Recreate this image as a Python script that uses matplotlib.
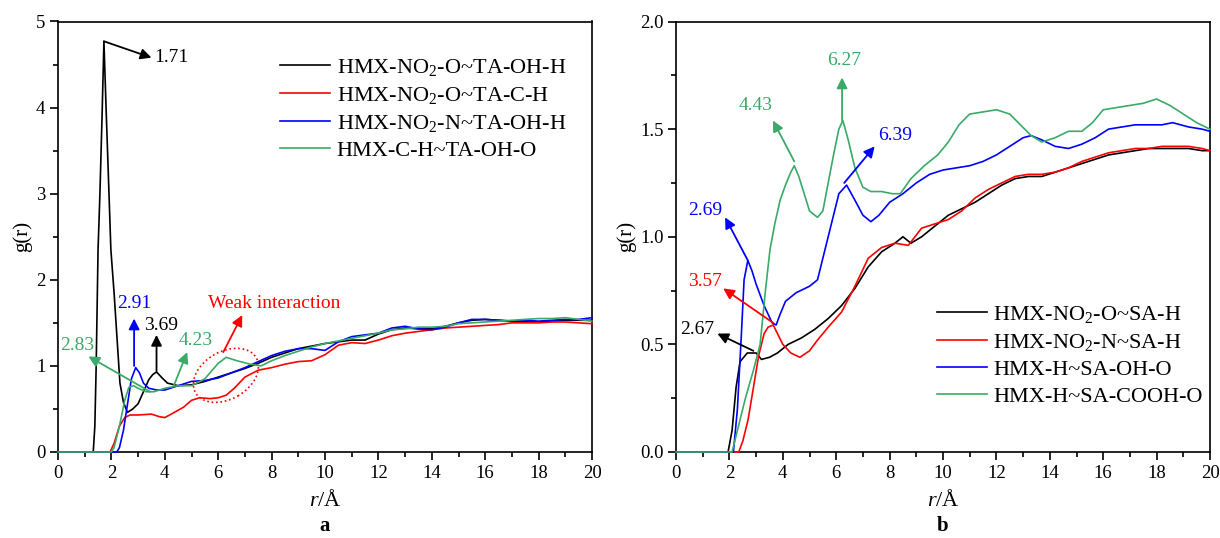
import matplotlib
matplotlib.use('Agg')
import matplotlib.pyplot as plt
import matplotlib.transforms as mtransforms
from matplotlib.patches import Ellipse
from matplotlib.ticker import MultipleLocator

plt.rcParams['font.family'] = ['Liberation Serif', 'DejaVu Serif']
plt.rcParams['mathtext.fontset'] = 'custom'
plt.rcParams['mathtext.rm'] = 'Liberation Serif'
plt.rcParams['mathtext.it'] = 'Liberation Serif:italic'
plt.rcParams['mathtext.bf'] = 'Liberation Serif:bold'

BLACK = '#000000'
RED = '#ff0000'
BLUE = '#0000ff'
GREEN = '#3aaa68'

# ---- panel a: HMX / TA ----
ta_oh_h_r = [0, 1.32, 1.38, 1.43, 1.5, 1.57, 1.65, 1.72, 1.8, 1.91, 1.98, 2.1, 2.32, 2.45, 2.6, 2.8, 3.0,
             3.2, 3.4, 3.55, 3.69, 3.9, 4.1, 4.5, 5.0, 5.5, 6.0, 6.5, 7.0, 7.5, 8.0, 8.5, 9.0, 9.5,
             10.0, 10.5, 11.0, 11.5, 12.0, 12.5, 13.0, 13.5, 14.0, 14.5, 15.0, 15.5, 16.0, 16.5,
             17.0, 17.5, 18.0, 18.5, 19.0, 19.5, 20.0]
ta_oh_h_g = [0, 0, 0.3, 1.0, 2.35, 3.0, 3.9, 4.77, 4.0, 3.0, 2.35, 1.85, 0.8, 0.58, 0.46, 0.5, 0.56,
             0.7, 0.84, 0.9, 0.93, 0.86, 0.8, 0.77, 0.78, 0.82, 0.87, 0.92, 0.97, 1.03, 1.1, 1.15, 1.2, 1.23,
             1.26, 1.28, 1.3, 1.3, 1.37, 1.42, 1.44, 1.43, 1.43, 1.46, 1.5, 1.53, 1.54, 1.53,
             1.52, 1.52, 1.51, 1.52, 1.53, 1.53, 1.53]

ta_c_h_r = [0, 1.95, 2.1, 2.3, 2.5, 2.7, 3.0, 3.5, 3.8, 4.0, 4.3, 4.7, 5.0, 5.3, 5.7, 6.0, 6.3, 6.6,
            7.0, 7.5, 8.0, 8.5, 9.0, 9.5, 10.0, 10.5, 11.0, 11.5, 12.0, 12.5, 13.0, 13.5, 14.0, 14.5,
            15.0, 15.5, 16.0, 16.5, 17.0, 17.5, 18.0, 18.5, 19.0, 19.5, 20.0]
ta_c_h_g = [0, 0, 0.1, 0.3, 0.4, 0.43, 0.43, 0.44, 0.41, 0.4, 0.45, 0.52, 0.6, 0.63, 0.62, 0.63, 0.66, 0.74,
            0.87, 0.95, 0.98, 1.02, 1.05, 1.06, 1.13, 1.24, 1.27, 1.26, 1.3, 1.35, 1.38, 1.4, 1.42, 1.44,
            1.45, 1.46, 1.47, 1.48, 1.5, 1.5, 1.5, 1.51, 1.51, 1.5, 1.49]

ta_n_h_r = [0, 2.2, 2.3, 2.45, 2.6, 2.75, 2.91, 3.05, 3.2, 3.4, 3.7, 4.0, 4.5, 5.0, 5.5, 6.0, 6.5, 7.0,
            7.5, 8.0, 8.5, 9.0, 9.5, 10.0, 10.5, 11.0, 11.5, 12.0, 12.5, 13.0, 13.5, 14.0, 14.5, 15.0,
            15.5, 16.0, 16.5, 17.0, 17.5, 18.0, 18.5, 19.0, 19.5, 20.0]
ta_n_h_g = [0, 0, 0.05, 0.25, 0.55, 0.85, 0.98, 0.92, 0.8, 0.74, 0.72, 0.72, 0.77, 0.82, 0.83, 0.86, 0.92, 0.98,
            1.05, 1.12, 1.17, 1.2, 1.2, 1.18, 1.28, 1.34, 1.36, 1.38, 1.44, 1.46, 1.43, 1.42, 1.45, 1.5,
            1.54, 1.54, 1.53, 1.52, 1.53, 1.52, 1.53, 1.54, 1.54, 1.56]

ta_oh_o_r = [0, 2.0, 2.1, 2.3, 2.5, 2.65, 2.83, 3.0, 3.3, 3.6, 4.0, 4.5, 5.0, 5.5, 6.0, 6.3, 6.7, 7.2,
             7.6, 8.0, 8.5, 9.0, 9.5, 10.0, 10.5, 11.0, 11.5, 12.0, 12.5, 13.0, 13.5, 14.0, 14.5, 15.0,
             15.5, 16.0, 16.5, 17.0, 17.5, 18.0, 18.5, 19.0, 19.5, 20.0]
ta_oh_o_g = [0, 0, 0.05, 0.3, 0.6, 0.75, 0.77, 0.74, 0.7, 0.7, 0.74, 0.77, 0.77, 0.85, 1.03, 1.1, 1.06, 1.02,
             1.0, 1.06, 1.12, 1.17, 1.22, 1.26, 1.29, 1.32, 1.35, 1.38, 1.42, 1.43, 1.45, 1.45, 1.46, 1.49,
             1.5, 1.51, 1.52, 1.53, 1.54, 1.55, 1.55, 1.56, 1.54, 1.52]

# ---- panel b: HMX / SA ----
sa_o_h_r = [0, 1.95, 2.1, 2.25, 2.4, 2.67, 3.0, 3.2, 3.5, 3.8, 4.2, 4.7, 5.2, 5.7, 6.2, 6.7, 7.2, 7.7,
            8.2, 8.5, 8.8, 9.2, 9.7, 10.2, 10.7, 11.2, 11.7, 12.2, 12.7, 13.2, 13.7, 14.2, 14.7, 15.2,
            15.7, 16.2, 16.7, 17.2, 17.7, 18.2, 18.7, 19.2, 19.7, 20.0]
sa_o_h_g = [0, 0, 0.1, 0.3, 0.42, 0.46, 0.46, 0.43, 0.44, 0.46, 0.5, 0.53, 0.57, 0.62, 0.68, 0.76, 0.86, 0.93,
            0.97, 1.0, 0.97, 1.0, 1.05, 1.1, 1.13, 1.16, 1.2, 1.24, 1.27, 1.28, 1.28, 1.3, 1.32, 1.34,
            1.36, 1.38, 1.39, 1.4, 1.41, 1.41, 1.41, 1.41, 1.4, 1.4]

sa_n_h_r = [0, 2.35, 2.5, 2.7, 2.9, 3.1, 3.3, 3.45, 3.64, 3.8, 4.0, 4.3, 4.64, 5.0, 5.3, 5.7, 6.2, 6.7,
            7.2, 7.7, 8.2, 8.7, 9.2, 9.7, 10.2, 10.7, 11.2, 11.7, 12.2, 12.7, 13.2, 13.7, 14.2, 14.7,
            15.2, 15.7, 16.2, 16.7, 17.2, 17.7, 18.2, 18.7, 19.2, 19.7, 20.0]
sa_n_h_g = [0, 0, 0.05, 0.15, 0.3, 0.45, 0.55, 0.58, 0.59, 0.55, 0.5, 0.46, 0.44, 0.47, 0.52, 0.58, 0.65, 0.77,
            0.9, 0.95, 0.97, 0.96, 1.04, 1.06, 1.08, 1.12, 1.18, 1.22, 1.25, 1.28, 1.29, 1.29, 1.3, 1.32,
            1.35, 1.37, 1.39, 1.4, 1.41, 1.41, 1.42, 1.42, 1.42, 1.41, 1.4]

sa_oh_o_r = [0, 2.15, 2.3, 2.45, 2.55, 2.69, 2.85, 3.0, 3.3, 3.6, 3.75, 3.9, 4.1, 4.5, 5.0, 5.3, 5.6, 5.9,
             6.1, 6.39, 6.7, 7.0, 7.3, 7.6, 8.0, 8.5, 9.0, 9.5, 10.0, 10.5, 11.0, 11.5, 12.0, 12.5, 13.0,
             13.3, 13.7, 14.2, 14.7, 15.2, 15.7, 16.2, 16.7, 17.2, 17.7, 18.2, 18.6, 19.2, 19.7, 20.0]
sa_oh_o_g = [0, 0, 0.2, 0.55, 0.8, 0.89, 0.84, 0.78, 0.68, 0.6, 0.59, 0.64, 0.7, 0.74, 0.77, 0.8, 0.95, 1.1,
             1.2, 1.24, 1.17, 1.1, 1.07, 1.1, 1.16, 1.2, 1.25, 1.29, 1.31, 1.32, 1.33, 1.35, 1.38, 1.42, 1.46,
             1.47, 1.45, 1.42, 1.41, 1.43, 1.46, 1.5, 1.51, 1.52, 1.52, 1.52, 1.53, 1.51, 1.5, 1.49]

sa_cooh_o_r = [0, 2.1, 2.3, 2.6, 2.9, 3.15, 3.35, 3.52, 3.7, 3.9, 4.1, 4.3, 4.43, 4.6, 4.8, 5.0, 5.3, 5.5,
               5.7, 5.9, 6.1, 6.25, 6.45, 6.7, 7.0, 7.3, 7.7, 8.1, 8.4, 8.8, 9.3, 9.8, 10.2, 10.6, 11.0,
               11.5, 12.0, 12.5, 12.9, 13.3, 13.7, 14.2, 14.7, 15.2, 15.6, 16.0, 16.5, 17.0, 17.5, 18.0,
               18.5, 19.0, 19.5, 20.0]
sa_cooh_o_g = [0, 0, 0.1, 0.25, 0.38, 0.5, 0.75, 0.94, 1.06, 1.17, 1.24, 1.3, 1.33, 1.28, 1.2, 1.12, 1.09, 1.12,
               1.25, 1.38, 1.5, 1.54, 1.45, 1.32, 1.23, 1.21, 1.21, 1.2, 1.2, 1.27, 1.33, 1.38, 1.44, 1.52, 1.57,
               1.58, 1.59, 1.57, 1.52, 1.47, 1.44, 1.46, 1.49, 1.49, 1.53, 1.59, 1.6, 1.61, 1.62, 1.64,
               1.61, 1.57, 1.53, 1.5]

labels_a = ['HMX-NO$_2$-O~TA-OH-H', 'HMX-NO$_2$-O~TA-C-H', 'HMX-NO$_2$-N~TA-OH-H', 'HMX-C-H~TA-OH-O']
labels_b = ['HMX-NO$_2$-O~SA-H', 'HMX-NO$_2$-N~SA-H', 'HMX-H~SA-OH-O', 'HMX-H~SA-COOH-O']


def style_axes(ax, ymax, ymajor, yminor, fmt):
    ax.set_xlim(0, 20)
    ax.set_ylim(0, ymax)
    ax.xaxis.set_major_locator(MultipleLocator(2))
    ax.xaxis.set_minor_locator(MultipleLocator(1))
    ax.yaxis.set_major_locator(MultipleLocator(ymajor))
    ax.yaxis.set_minor_locator(MultipleLocator(yminor))
    ax.yaxis.set_major_formatter(fmt)
    ax.tick_params(which='both', direction='out', width=1.2, labelsize=13.5, pad=3)
    ax.tick_params(which='major', length=6)
    ax.tick_params(which='minor', length=3.5)
    for s in ax.spines.values():
        s.set_linewidth(1.2)
    ax.set_xlabel(r'$\mathit{r}$/Å', fontsize=16, labelpad=6)
    ax.set_ylabel('g(r)', fontsize=15, labelpad=3)


def arrow(ax, start, tip, color):
    ax.annotate('', xy=tip, xytext=start,
                arrowprops=dict(arrowstyle='-|>', color=color, lw=1.3,
                                mutation_scale=16, shrinkA=0, shrinkB=0))


fig = plt.figure(figsize=(12.2, 5.38), dpi=100)
ax1 = fig.add_axes([58 / 1220, 86 / 538, 534 / 1220, 430.5 / 538])
ax2 = fig.add_axes([676 / 1220, 86 / 538, 534 / 1220, 430.5 / 538])

lw = 1.2
line_kw = dict(lw=lw, clip_on=False, zorder=3)
ax1.plot(ta_oh_h_r, ta_oh_h_g, color=BLACK, label=labels_a[0], **line_kw)
ax1.plot(ta_c_h_r, ta_c_h_g, color=RED, label=labels_a[1], **line_kw)
ax1.plot(ta_n_h_r, ta_n_h_g, color=BLUE, label=labels_a[2], **line_kw)
ax1.plot(ta_oh_o_r, ta_oh_o_g, color=GREEN, label=labels_a[3], **line_kw)
style_axes(ax1, 5, 1, 0.5, '{x:.0f}')

ax2.plot(sa_o_h_r, sa_o_h_g, color=BLACK, label=labels_b[0], **line_kw)
ax2.plot(sa_n_h_r, sa_n_h_g, color=RED, label=labels_b[1], **line_kw)
ax2.plot(sa_oh_o_r, sa_oh_o_g, color=BLUE, label=labels_b[2], **line_kw)
ax2.plot(sa_cooh_o_r, sa_cooh_o_g, color=GREEN, label=labels_b[3], **line_kw)
style_axes(ax2, 2.0, 0.5, 0.25, '{x:.1f}')

leg_kw = dict(frameon=False, fontsize=16, handlelength=2.25, handletextpad=0.3,
              labelspacing=0.3, borderaxespad=0, borderpad=0)
ax1.legend(loc='upper left', bbox_to_anchor=(0.416, 0.917), **leg_kw)
ax2.legend(loc='upper left', bbox_to_anchor=(0.488, 0.344), **leg_kw)

fs = 14
# panel a annotations
arrow(ax1, (1.72, 4.77), (3.5, 4.58), BLACK)
ax1.text(3.62, 4.58, '1.71', color=BLACK, fontsize=fs, va='center', ha='left')
arrow(ax1, (2.85, 1.0), (2.85, 1.55), BLUE)
ax1.text(2.85, 1.72, '2.91', color=BLUE, fontsize=fs, va='center', ha='center')
arrow(ax1, (3.69, 0.94), (3.69, 1.36), BLACK)
ax1.text(3.85, 1.47, '3.69', color=BLACK, fontsize=fs, va='center', ha='center')
arrow(ax1, (3.45, 0.70), (1.14, 1.11), GREEN)
ax1.text(0.72, 1.24, '2.83', color=GREEN, fontsize=fs, va='center', ha='center')
arrow(ax1, (4.35, 0.78), (4.84, 1.16), GREEN)
ax1.text(5.15, 1.30, '4.23', color=GREEN, fontsize=fs, va='center', ha='center')
# dotted ellipse drawn in pixel units, then mapped into data space
px_to_data = mtransforms.Affine2D().scale(20 / 534, 5 / 430.5).translate(6.29, 0.89)
ax1.add_patch(Ellipse((0, 0), 70, 47.6, angle=30, fill=False, ls=':', lw=1.2,
                      color=RED, transform=px_to_data + ax1.transData))
arrow(ax1, (6.19, 1.16), (6.9, 1.59), RED)
ax1.text(8.1, 1.73, 'Weak interaction', color=RED, fontsize=fs, va='center', ha='center')

# panel b annotations
arrow(ax2, (2.69, 0.89), (1.84, 1.09), BLUE)
ax2.text(1.08, 1.12, '2.69', color=BLUE, fontsize=fs, va='center', ha='center')
arrow(ax2, (3.64, 0.60), (1.77, 0.76), RED)
ax2.text(1.07, 0.79, '3.57', color=RED, fontsize=fs, va='center', ha='center')
arrow(ax2, (2.9, 0.47), (1.55, 0.55), BLACK)
ax2.text(0.78, 0.57, '2.67', color=BLACK, fontsize=fs, va='center', ha='center')
arrow(ax2, (4.43, 1.35), (3.63, 1.54), GREEN)
ax2.text(2.99, 1.61, '4.43', color=GREEN, fontsize=fs, va='center', ha='center')
arrow(ax2, (6.22, 1.54), (6.22, 1.74), GREEN)
ax2.text(6.29, 1.82, '6.27', color=GREEN, fontsize=fs, va='center', ha='center')
arrow(ax2, (6.3, 1.25), (7.44, 1.42), BLUE)
ax2.text(7.58, 1.47, '6.39', color=BLUE, fontsize=fs, va='center', ha='left')

fig.text((58 + 267) / 1220, 0.003, 'a', fontsize=15, fontweight='bold', ha='center', va='bottom')
fig.text((676 + 267) / 1220, 0.003, 'b', fontsize=15, fontweight='bold', ha='center', va='bottom')

fig.savefig('out.png', dpi=100)
